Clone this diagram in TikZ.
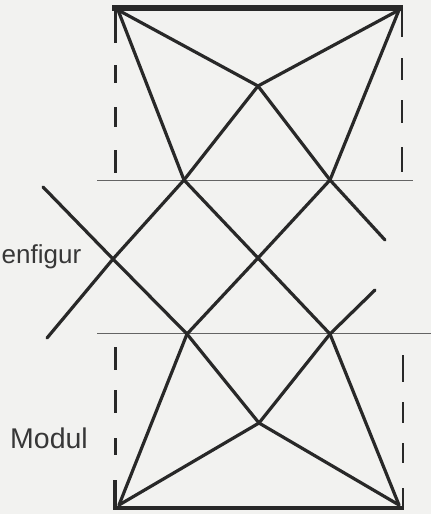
\documentclass[tikz,border=0pt]{standalone}
\usepackage{fontspec}
\setmainfont{Liberation Sans}
\definecolor{paper}{RGB}{242,242,240}
\definecolor{ink}{RGB}{40,40,40}
\definecolor{thinink}{RGB}{100,100,100}
\definecolor{txt}{RGB}{55,55,55}
\tikzset{
  bar/.style={draw=ink, line width=5.5pt},
  strut/.style={draw=ink, line width=3.2pt, line cap=round, line join=round},
  guide/.style={draw=thinink, line width=1pt},
  stub/.style={draw=ink, line width=3pt},
  thinstub/.style={draw=ink, line width=2.2pt},
  lbl/.style={text=txt, inner sep=0pt}
}
\begin{document}
\begin{tikzpicture}[x=1pt, y=-1pt]
\fill[paper] (0,0) rectangle (431,514);
\useasboundingbox (0,0) rectangle (431,514);
% corner and joint points
\coordinate (TL) at (118,10);
\coordinate (TR) at (399,10);
\coordinate (BL) at (119,505);
\coordinate (BR) at (399,505);
\coordinate (X1) at (258,86);
\coordinate (A) at (184,180);
\coordinate (B) at (330,180);
\coordinate (M) at (258,258);
\coordinate (L) at (113,259);
\coordinate (C) at (187,334);
\coordinate (D) at (330,334);
\coordinate (X2) at (259,423);
\coordinate (E1) at (385,240);
\coordinate (E2) at (43,187);
\coordinate (E3) at (47,338);
\coordinate (E4) at (375,290);
% box edges
\coordinate (tbL) at (112,8);
\coordinate (tbR) at (403,8);
\coordinate (bbL) at (113,508);
\coordinate (bbR) at (404,508);
\coordinate (ls1) at (115,6);
\coordinate (ls2) at (115,43);
\coordinate (rs1) at (402,6);
\coordinate (rs2) at (402,37);
\coordinate (lb1) at (115,480);
\coordinate (lb2) at (115,510);
\coordinate (rb1) at (403,488);
\coordinate (rb2) at (403,510);
\coordinate (ld1) at (115,65);
\coordinate (ld2) at (115,173);
\coordinate (rd1) at (402,58);
\coordinate (rd2) at (402,172);
\coordinate (ld3) at (115,347);
\coordinate (ld4) at (115,455);
\coordinate (rd3) at (403,355);
\coordinate (rd4) at (403,463);
% guide lines
\coordinate (g1a) at (97,180);
\coordinate (g1b) at (413,180);
\coordinate (g2a) at (97,333);
\coordinate (g2b) at (431,333);
\draw[guide] (g1a) -- (g1b);
\draw[guide] (g2a) -- (g2b);
% bars and stubs
\draw[bar] (tbL) -- (tbR);
\draw[bar, line width=4.5pt] (bbL) -- (bbR);
\draw[stub] (ls1) -- (ls2);
\draw[thinstub] (rs1) -- (rs2);
\draw[stub, line width=3.6pt] (lb1) -- (lb2);
\draw[thinstub] (rb1) -- (rb2);
% dashed verticals
\draw[stub, dash pattern=on 18pt off 24pt on 20pt off 23pt on 23pt off 200pt] (ld1) -- (ld2);
\draw[thinstub, dash pattern=on 22pt off 20pt on 23pt off 24pt on 25pt off 200pt] (rd1) -- (rd2);
\draw[stub, dash pattern=on 23pt off 20pt on 23pt off 25pt on 17pt off 200pt] (ld3) -- (ld4);
\draw[thinstub, dash pattern=on 27pt off 20pt on 21pt off 20pt on 20pt off 200pt] (rd3) -- (rd4);
% upper truss
\draw[strut] (TL) -- (X1);
\draw[strut] (TR) -- (X1);
\draw[strut] (TL) -- (A);
\draw[strut] (TR) -- (B);
\draw[strut] (X1) -- (A);
\draw[strut] (X1) -- (B);
% middle lattice
\draw[strut] (A) -- (L);
\draw[strut] (A) -- (M);
\draw[strut] (B) -- (M);
\draw[strut] (B) -- (E1);
\draw[strut] (E2) -- (L);
\draw[strut] (L) -- (C);
\draw[strut] (L) -- (E3);
\draw[strut] (M) -- (C);
\draw[strut] (M) -- (D);
\draw[strut] (D) -- (E4);
% lower truss
\draw[strut] (C) -- (X2);
\draw[strut] (D) -- (X2);
\draw[strut] (C) -- (BL);
\draw[strut] (D) -- (BR);
\draw[strut] (X2) -- (BL);
\draw[strut] (X2) -- (BR);
% labels
\node[lbl, anchor=base west, font=\fontsize{26}{30}\selectfont] (kasten) at (1.5,263) {enfigur};
\node[lbl, anchor=base west, font=\fontsize{28.5}{33}\selectfont] (modul) at (10,448) {Modul};
\end{tikzpicture}
\end{document}
